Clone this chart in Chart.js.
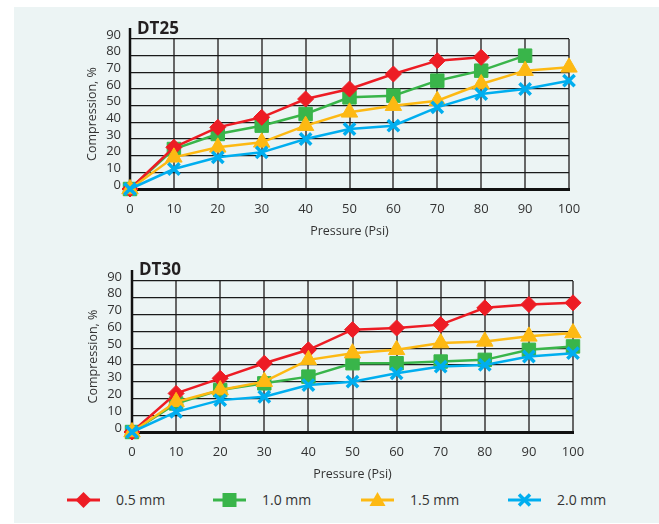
<!DOCTYPE html>
<html>
<head>
<meta charset="utf-8">
<script src="https://cdn.jsdelivr.net/npm/chart.js@4.4.0/dist/chart.umd.min.js"></script>
<style>
  body { margin: 0; background: #fff; font-family: "Open Sans", sans-serif; color: #333; }
  #wrap { position: relative; width: 659px; height: 524px; overflow: hidden; }
  #bg { position: absolute; left: 14px; top: 7px; width: 645px; height: 516px; background: #ecf4f4; }
  canvas { position: absolute; left: 0; }
  .title { position: absolute; font-weight: bold; font-size: 17px; line-height: 20px; color: #231f20; }
  .mk { position: absolute; top: 490px; }
  .lt { position: absolute; top: 490px; font-size: 14px; line-height: 20px; color: #333; }
</style>
</head>
<body>
<div id="wrap">
  <div id="bg"></div>
  <canvas id="dt25" width="659" height="245" style="top:0"></canvas>
  <canvas id="dt30" width="659" height="245" style="top:245px"></canvas>
  <div class="title" style="left:137px; top:18px">DT25</div>
  <div class="title" style="left:139px; top:259px">DT30</div>

  <svg class="mk" style="left:67px" width="33" height="20"><line x1="0" y1="10" x2="33" y2="10" stroke="#ed1c24" stroke-width="3"/><polygon points="16.5,2 24.5,10 16.5,18 8.5,10" fill="#ed1c24"/></svg>
  <div class="lt" style="left:116px">0.5 mm</div>
  <svg class="mk" style="left:213px" width="33" height="20"><line x1="0" y1="10" x2="33" y2="10" stroke="#39b54a" stroke-width="3"/><rect x="9.5" y="3" width="14" height="14" fill="#39b54a"/></svg>
  <div class="lt" style="left:262px">1.0 mm</div>
  <svg class="mk" style="left:361px" width="33" height="20"><line x1="0" y1="10" x2="33" y2="10" stroke="#fdb913" stroke-width="3"/><polygon points="16.5,2 24.5,16 8.5,16" fill="#fdb913"/></svg>
  <div class="lt" style="left:410px">1.5 mm</div>
  <svg class="mk" style="left:508px" width="33" height="20"><line x1="0" y1="10" x2="33" y2="10" stroke="#00aeef" stroke-width="3"/><path d="M11 4.5 L22 15.5 M22 4.5 L11 15.5" stroke="#00aeef" stroke-width="3.5"/></svg>
  <div class="lt" style="left:557px">2.0 mm</div>
</div>
<script>
// pressure (Psi) categories
const pressure = ['0', '10', '20', '30', '40', '50', '60', '70', '80', '90', '100'];
const seriesNames = ['0.5 mm', '1.0 mm', '1.5 mm', '2.0 mm'];

// DT25 compression, %
const red25    = [0, 25, 37, 43, 54, 60, 69, 77, 79];
const green25  = [0, 24, 33, 38, 45, 55, 56, 65, 71, 80];
const yellow25 = [0, 19, 25, 28, 38, 46, 50, 53, 63, 71, 73];
const blue25   = [0, 12, 19, 22, 30, 36, 38, 49, 57, 60, 65];

// DT30 compression, %
const red30    = [0, 23, 32, 41, 49, 61, 62, 64, 74, 76, 77];
const green30  = [0, 17, 25, 29, 33, 41, 41, 42, 43, 49, 51];
const yellow30 = [0, 18, 25, 30, 43, 47, 49, 53, 54, 57, 59];
const blue30   = [0, 12, 19, 21, 28, 30, 35, 39, 40, 45, 47];

const styles = [
  { color: '#ed1c24', pointStyle: 'rectRot',  radius: 8,   pbw: 1,   order: 3 },
  { color: '#39b54a', pointStyle: 'rect',     radius: 9.5, pbw: 1,   order: 4 },
  { color: '#fdb913', pointStyle: 'triangle', radius: 9.5, pbw: 1,   order: 2 },
  { color: '#00aeef', pointStyle: 'crossRot', radius: 8,   pbw: 3.5, order: 1 }
];

// left axis line runs a bit above the plot, under the markers
const yAxisLine = {
  id: 'yAxisLine',
  beforeDatasetsDraw(chart) {
    const { ctx, chartArea } = chart;
    ctx.save();
    ctx.strokeStyle = '#111';
    ctx.lineWidth = 2.5;
    ctx.beginPath();
    ctx.moveTo(chartArea.left, chartArea.top - 11);
    ctx.lineTo(chartArea.left, chartArea.bottom + 1.5);
    ctx.stroke();
    ctx.restore();
  }
};

function compChart(id, series, pad) {
  const ctx = document.getElementById(id);
  new Chart(ctx, {
    type: 'line',
    data: {
      labels: pressure,
      datasets: series.map((d, i) => ({
        label: seriesNames[i],
        data: d,
        borderColor: styles[i].color,
        backgroundColor: styles[i].color,
        pointBorderColor: styles[i].color,
        pointBackgroundColor: styles[i].color,
        borderWidth: 2.5,
        pointStyle: styles[i].pointStyle,
        pointRadius: styles[i].radius,
        pointBorderWidth: styles[i].pbw,
        order: styles[i].order,
        tension: 0,
        clip: false
      }))
    },
    options: {
      responsive: false,
      animation: false,
      devicePixelRatio: 1,
      layout: { padding: { left: pad.left, top: pad.top, right: pad.right, bottom: 0 } },
      plugins: { legend: { display: false }, tooltip: { enabled: false } },
      scales: {
        x: {
          grid: { color: '#666', lineWidth: 2, drawTicks: false },
          border: { color: '#111', width: 3 },
          ticks: { color: '#333', font: { family: 'Open Sans', size: 13 }, padding: 12, maxRotation: 0, autoSkip: false },
          title: { display: true, text: 'Pressure (Psi)', color: '#333', font: { family: 'Open Sans', size: 12.5 }, padding: { top: 0, bottom: pad.xTitle } },
          afterFit: s => { s.height = pad.xHeight; }
        },
        y: {
          min: 0,
          max: 90,
          grid: { color: '#1a1a1a', lineWidth: 1.2, drawTicks: false },
          border: { display: false },
          ticks: { stepSize: 10, autoSkip: false, color: '#333', font: { family: 'Open Sans', size: 13 }, padding: pad.yTick, labelOffset: -4 },
          title: { display: true, text: 'Compression, %', color: '#333', font: { family: 'Open Sans', size: 12.5 }, padding: { top: pad.yTitle, bottom: 0 } },
          afterFit: s => { s.width = 50; }
        }
      }
    },
    plugins: [yAxisLine]
  });
}

compChart('dt25', [red25, green25, yellow25, blue25],
  { left: 80, top: 39, right: 90, xHeight: 56, xTitle: 6, yTick: 9, yTitle: 5 });
compChart('dt30', [red30, green30, yellow30, blue30],
  { left: 82, top: 36, right: 86, xHeight: 58, xTitle: 8, yTick: 10, yTitle: 4 });
</script>
</body>
</html>
